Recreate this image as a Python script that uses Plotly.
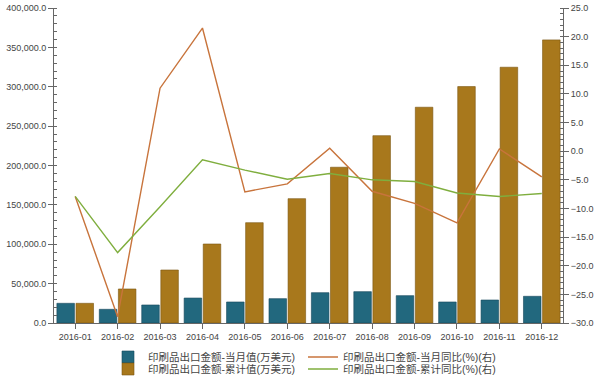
import plotly.graph_objects as go

months = ["2016-01", "2016-02", "2016-03", "2016-04", "2016-05", "2016-06",
          "2016-07", "2016-08", "2016-09", "2016-10", "2016-11", "2016-12"]
monthly_value = [25000, 17400, 22900, 31700, 26700, 30900,
                 38500, 39800, 34700, 26700, 29200, 33900]
cumulative_value = [25000, 43200, 67300, 100300, 127400, 157900,
                    197800, 237900, 274000, 300200, 324800, 359500]
monthly_yoy = [-7.9, -28.9, 11.0, 21.5, -7.1, -5.7, 0.5, -7.0, -9.1, -12.5, 0.4, -4.5]
cumulative_yoy = [-7.9, -17.7, -9.7, -1.5, -3.3, -4.9, -3.9, -5.0, -5.3, -7.3, -7.9, -7.4]

names = ["印刷品出口金额-当月值(万美元)", "印刷品出口金额-累计值(万美元)",
         "印刷品出口金额-当月同比(%)(右)", "印刷品出口金额-累计同比(%)(右)"]

FONT = "Liberation Sans, Arial, Noto Sans CJK SC, sans-serif"
TEAL = "#22687e"
GOLD = "#a8781c"
ORANGE = "#c8743c"
GREEN = "#7fae3e"

fig = go.Figure()
fig.add_trace(go.Bar(x=months, y=monthly_value, name=names[0], legend="legend",
                     marker=dict(color=TEAL, line=dict(color="#16475a", width=0.6))))
fig.add_trace(go.Bar(x=months, y=cumulative_value, name=names[1], legend="legend2",
                     marker=dict(color=GOLD, line=dict(color="#7a5510", width=0.6))))
fig.add_trace(go.Scatter(x=months, y=monthly_yoy, name=names[2], yaxis="y2", legend="legend",
                         mode="lines", line=dict(color=ORANGE, width=1.4)))
fig.add_trace(go.Scatter(x=months, y=cumulative_yoy, name=names[3], yaxis="y2", legend="legend2",
                         mode="lines", line=dict(color=GREEN, width=1.4)))

axis_common = dict(showgrid=False, zeroline=False, showline=True, linecolor="#666",
                   linewidth=1, tickcolor="#666", ticks="outside", ticklen=5,
                   automargin=False,
                   tickfont=dict(family=FONT, size=9, color="#444"))

legend_common = dict(orientation="h", xref="container", yref="container",
                     xanchor="left", yanchor="middle", entrywidth=150,
                     bgcolor="rgba(0,0,0,0)", font=dict(family=FONT, size=10.5, color="#444"),
                     itemwidth=30, tracegroupgap=0)

fig.update_layout(
    width=600, height=376,
    margin=dict(l=54, r=37, t=8, b=53, autoexpand=False),
    paper_bgcolor="white", plot_bgcolor="white",
    barmode="group", bargap=0.1, bargroupgap=0.08,
    font=dict(family=FONT, size=9, color="#444"),
    xaxis=dict(**axis_common, type="category"),
    yaxis=dict(**axis_common, range=[0, 400000], dtick=50000, tickformat=",.1f",
               minor=dict(dtick=10000, ticks="inside", ticklen=3, tickcolor="#666")),
    yaxis2=dict(**axis_common, overlaying="y", side="right", range=[-30, 25], dtick=5,
                tickformat=".1f",
                minor=dict(dtick=1, ticks="inside", ticklen=3, tickcolor="#666")),
    legend=dict(**legend_common, x=108/600, y=1 - 357/376),
    legend2=dict(**legend_common, x=108/600, y=1 - 369/376),
)

fig.write_html("out.html")
